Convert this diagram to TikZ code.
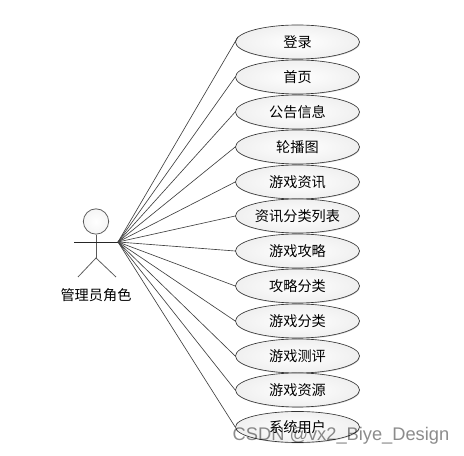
\documentclass[tikz,border=0pt]{standalone}
\usepackage{fontspec}
\setmainfont{Noto Sans CJK SC}
\newfontfamily\markfont{Liberation Sans}
\usetikzlibrary{shapes.geometric,shadows}

\begin{document}
\begin{tikzpicture}[x=.03cm,y=-.03cm,font=\fontsize{12.1pt}{14pt}\selectfont,
  usecase/.style={ellipse,draw=black!80,line width=.55pt,minimum width=3.72cm,minimum height=1.02cm,inner sep=0pt,
    inner color=white,outer color=black!6,drop shadow={shadow xshift=.5pt,shadow yshift=-.7pt,opacity=.3}},
  stickman/.style={draw=black!65,line width=.65pt},
  assoc/.style={draw=black!75,line width=.55pt}]
\useasboundingbox (0,0) rectangle (464,456);
\node[usecase] (login) at (297.5,42) {登录};
\node[usecase] (home) at (297.5,77) {首页};
\node[usecase] (notice) at (297.5,112) {公告信息};
\node[usecase] (banner) at (297.5,147) {轮播图};
\node[usecase] (gamenews) at (297.5,182) {游戏资讯};
\node[usecase] (newstype) at (297.5,216) {资讯分类列表};
\node[usecase] (guide) at (297.5,251) {游戏攻略};
\node[usecase] (guidetype) at (297.5,286) {攻略分类};
\node[usecase] (gametype) at (297.5,321) {游戏分类};
\node[usecase] (review) at (297.5,356) {游戏测评};
\node[usecase] (resource) at (297.5,390) {游戏资源};
\node[usecase,minimum height=.93cm] (sysuser) at (297.5,427) {系统用户};
% actor
\node[circle,draw=black!65,line width=.65pt,minimum size=.76cm,inner sep=0pt,inner color=white,outer color=black!4] (head) at (96,221.5) {};
\coordinate (hub) at (118,242);
\coordinate (handl) at (74,242);
\coordinate (hip) at (96,258);
\coordinate (footl) at (78,277);
\coordinate (footr) at (116,277);
\draw[stickman] (head.south)--(hip);
\draw[draw=black!85,line width=.65pt] (handl)--(hub);
\draw[stickman] (footl)--(hip)--(footr);
\node (admin) at (96,295) {管理员角色};
\draw[assoc] (hub)--(login.175);
\draw[assoc] (hub)--(home.west);
\draw[assoc] (hub)--(notice.west);
\draw[assoc] (hub)--(banner.west);
\draw[assoc] (hub)--(gamenews.west);
\draw[assoc] (hub)--(newstype.west);
\draw[assoc] (hub)--(guide.west);
\draw[assoc] (hub)--(guidetype.west);
\draw[assoc] (hub)--(gametype.west);
\draw[assoc] (hub)--(review.west);
\draw[assoc] (hub)--(resource.west);
\draw[assoc] (hub)--(sysuser.west);
\node[font=\markfont\fontsize{15.6pt}{18pt}\selectfont,text=black,text opacity=.45,inner sep=0pt] (mark) at (341,436) {CSDN @vx2\_Biye\_Design};
\end{tikzpicture}
\end{document}
